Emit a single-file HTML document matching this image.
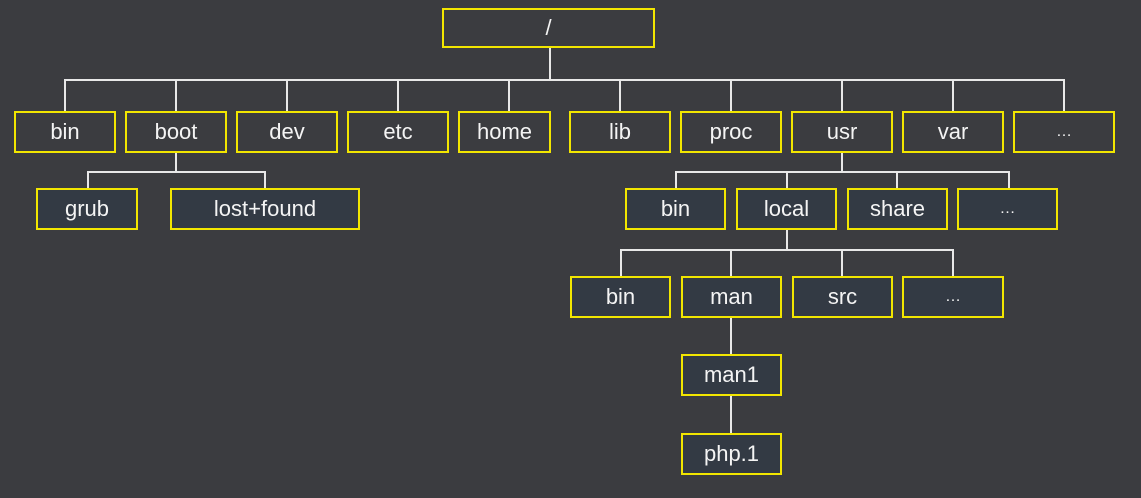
<!DOCTYPE html><html><head><style>
body{margin:0;width:1141px;height:498px;background:#3b3c40;position:relative;overflow:hidden;font-family:"Liberation Sans",sans-serif}
.b{position:absolute;box-sizing:border-box;border:2px solid #f2e600;color:#f4f4f4;font-size:22px;display:flex;align-items:center;justify-content:center;background:#3b3c40}
.d{background:#333a44}
.e{font-size:16px}
.l{position:absolute;background:#e8e8e8}
</style></head><body>
<div class="l" style="left:549px;top:47px;width:2px;height:34px"></div>
<div class="l" style="left:64px;top:79px;width:1001px;height:2px"></div>
<div class="l" style="left:64px;top:79px;width:2px;height:32px"></div>
<div class="l" style="left:175px;top:79px;width:2px;height:32px"></div>
<div class="l" style="left:286px;top:79px;width:2px;height:32px"></div>
<div class="l" style="left:397px;top:79px;width:2px;height:32px"></div>
<div class="l" style="left:508px;top:79px;width:2px;height:32px"></div>
<div class="l" style="left:619px;top:79px;width:2px;height:32px"></div>
<div class="l" style="left:730px;top:79px;width:2px;height:32px"></div>
<div class="l" style="left:841px;top:79px;width:2px;height:32px"></div>
<div class="l" style="left:952px;top:79px;width:2px;height:32px"></div>
<div class="l" style="left:1063px;top:79px;width:2px;height:32px"></div>
<div class="l" style="left:175px;top:152px;width:2px;height:21px"></div>
<div class="l" style="left:87px;top:171px;width:179px;height:2px"></div>
<div class="l" style="left:87px;top:171px;width:2px;height:17px"></div>
<div class="l" style="left:264px;top:171px;width:2px;height:17px"></div>
<div class="l" style="left:841px;top:152px;width:2px;height:21px"></div>
<div class="l" style="left:675px;top:171px;width:335px;height:2px"></div>
<div class="l" style="left:675px;top:171px;width:2px;height:17px"></div>
<div class="l" style="left:786px;top:171px;width:2px;height:17px"></div>
<div class="l" style="left:896px;top:171px;width:2px;height:17px"></div>
<div class="l" style="left:1008px;top:171px;width:2px;height:17px"></div>
<div class="l" style="left:786px;top:229px;width:2px;height:22px"></div>
<div class="l" style="left:620px;top:249px;width:334px;height:2px"></div>
<div class="l" style="left:620px;top:249px;width:2px;height:27px"></div>
<div class="l" style="left:730px;top:249px;width:2px;height:27px"></div>
<div class="l" style="left:841px;top:249px;width:2px;height:27px"></div>
<div class="l" style="left:952px;top:249px;width:2px;height:27px"></div>
<div class="l" style="left:730px;top:317px;width:2px;height:116px"></div>

<div class="b" style="left:442px;top:8px;width:213px;height:40px">/</div>
<div class="b" style="left:14px;top:111px;width:102px;height:42px">bin</div>
<div class="b" style="left:125px;top:111px;width:102px;height:42px">boot</div>
<div class="b" style="left:236px;top:111px;width:102px;height:42px">dev</div>
<div class="b" style="left:347px;top:111px;width:102px;height:42px">etc</div>
<div class="b" style="left:458px;top:111px;width:93px;height:42px">home</div>
<div class="b" style="left:569px;top:111px;width:102px;height:42px">lib</div>
<div class="b" style="left:680px;top:111px;width:102px;height:42px">proc</div>
<div class="b" style="left:791px;top:111px;width:102px;height:42px">usr</div>
<div class="b" style="left:902px;top:111px;width:102px;height:42px">var</div>
<div class="b e" style="left:1013px;top:111px;width:102px;height:42px">…</div>
<div class="b d" style="left:36px;top:188px;width:102px;height:42px">grub</div>
<div class="b d" style="left:170px;top:188px;width:190px;height:42px">lost+found</div>
<div class="b d" style="left:625px;top:188px;width:101px;height:42px">bin</div>
<div class="b d" style="left:736px;top:188px;width:101px;height:42px">local</div>
<div class="b d" style="left:847px;top:188px;width:101px;height:42px">share</div>
<div class="b d e" style="left:957px;top:188px;width:101px;height:42px">…</div>
<div class="b d" style="left:570px;top:276px;width:101px;height:42px">bin</div>
<div class="b d" style="left:681px;top:276px;width:101px;height:42px">man</div>
<div class="b d" style="left:792px;top:276px;width:101px;height:42px">src</div>
<div class="b d e" style="left:902px;top:276px;width:102px;height:42px">…</div>
<div class="b d" style="left:681px;top:354px;width:101px;height:42px">man1</div>
<div class="b d" style="left:681px;top:433px;width:101px;height:42px">php.1</div>
</body></html>
